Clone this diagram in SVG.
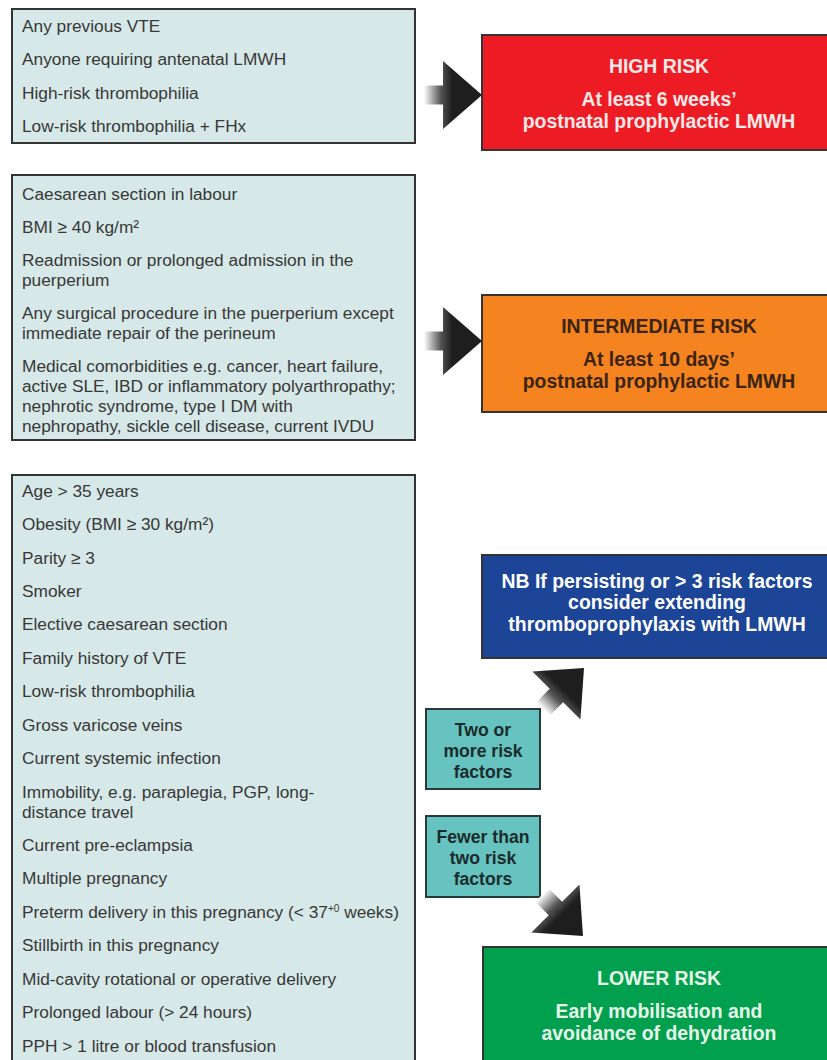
<svg xmlns="http://www.w3.org/2000/svg" width="827" height="1060" viewBox="0 0 827 1060">
<style>
.list{fill:#d6e8e7;stroke:#333;stroke-width:2}
.lt{font-family:"Liberation Sans",Arial,sans-serif;font-size:17.3px;fill:#383838}
.bt{font-family:"Liberation Sans",Arial,sans-serif;font-size:19.4px;font-weight:bold;text-anchor:middle}
.st{font-family:"Liberation Sans",Arial,sans-serif;font-size:17.6px;font-weight:bold;text-anchor:middle;fill:#1c2b2b}
.res{stroke:#333;stroke-width:2}
.tl{fill:#66c3c0;stroke:#2a3a3a;stroke-width:2}
</style>
<defs>
<linearGradient id="ag" gradientUnits="userSpaceOnUse" x1="-58" y1="0" x2="-30" y2="0">
<stop offset="0" stop-color="#ffffff"/>
<stop offset="0.6" stop-color="#555"/>
<stop offset="1" stop-color="#1e1e1e"/>
</linearGradient>
<path id="arrow" d="M-58,-9.5 L-39,-9.5 L-39,-34 L0,0 L-39,34 L-39,9.5 L-58,9.5 Z" fill="url(#ag)"/>
</defs>

<g id="high-factors">
<rect class="list" x="12" y="9" width="403" height="134"/>
<text class="lt" x="22" y="32">Any previous VTE</text>
<text class="lt" x="22" y="65">Anyone requiring antenatal LMWH</text>
<text class="lt" x="22" y="99">High-risk thrombophilia</text>
<text class="lt" x="22" y="132">Low-risk thrombophilia + FHx</text>
</g>

<g id="high-risk">
<rect class="res" x="482" y="35" width="356" height="115" fill="#ed1c24"/>
<text class="bt" x="659" y="73" fill="#fde8e8">HIGH RISK</text>
<text class="bt" x="659" y="106" fill="#fde8e8">At least 6 weeks’</text>
<text class="bt" x="659" y="128" fill="#fde8e8">postnatal prophylactic LMWH</text>
</g>

<g id="intermediate-factors">
<rect class="list" x="12" y="175" width="403" height="265"/>
<text class="lt" x="22" y="200">Caesarean section in labour</text>
<text class="lt" x="22" y="233">BMI ≥ 40 kg/m²</text>
<text class="lt" x="22" y="266">Readmission or prolonged admission in the</text>
<text class="lt" x="22" y="286">puerperium</text>
<text class="lt" x="22" y="319">Any surgical procedure in the puerperium except</text>
<text class="lt" x="22" y="339">immediate repair of the perineum</text>
<text class="lt" x="22" y="372">Medical comorbidities e.g. cancer, heart failure,</text>
<text class="lt" x="22" y="392">active SLE, IBD or inflammatory polyarthropathy;</text>
<text class="lt" x="22" y="412">nephrotic syndrome, type I DM with</text>
<text class="lt" x="22" y="432">nephropathy, sickle cell disease, current IVDU</text>
</g>

<g id="intermediate-risk">
<rect class="res" x="482" y="295" width="356" height="117" fill="#f5831f"/>
<text class="bt" x="659" y="333" fill="#3a2414">INTERMEDIATE RISK</text>
<text class="bt" x="659" y="366" fill="#3a2414">At least 10 days’</text>
<text class="bt" x="659" y="388" fill="#3a2414">postnatal prophylactic LMWH</text>
</g>

<g id="lower-factors">
<rect class="list" x="12" y="475" width="403" height="600"/>
<text class="lt" x="22" y="497">Age &gt; 35 years</text>
<text class="lt" x="22" y="530">Obesity (BMI ≥ 30 kg/m²)</text>
<text class="lt" x="22" y="564">Parity ≥ 3</text>
<text class="lt" x="22" y="597">Smoker</text>
<text class="lt" x="22" y="630">Elective caesarean section</text>
<text class="lt" x="22" y="664">Family history of VTE</text>
<text class="lt" x="22" y="697">Low-risk thrombophilia</text>
<text class="lt" x="22" y="731">Gross varicose veins</text>
<text class="lt" x="22" y="764">Current systemic infection</text>
<text class="lt" x="22" y="798">Immobility, e.g. paraplegia, PGP, long-</text>
<text class="lt" x="22" y="818">distance travel</text>
<text class="lt" x="22" y="851">Current pre-eclampsia</text>
<text class="lt" x="22" y="884">Multiple pregnancy</text>
<text class="lt" x="22" y="918">Preterm delivery in this pregnancy (&lt; 37<tspan font-size="10" dy="-6">+0</tspan><tspan dy="6"> weeks)</tspan></text>
<text class="lt" x="22" y="951">Stillbirth in this pregnancy</text>
<text class="lt" x="22" y="985">Mid-cavity rotational or operative delivery</text>
<text class="lt" x="22" y="1018">Prolonged labour (&gt; 24 hours)</text>
<text class="lt" x="22" y="1052">PPH &gt; 1 litre or blood transfusion</text>
</g>

<g id="nb-extend">
<rect class="res" x="482" y="555" width="356" height="103" fill="#1c4597"/>
<text class="bt" x="657" y="588" fill="#ffffff">NB If persisting or &gt; 3 risk factors</text>
<text class="bt" x="657" y="609" fill="#ffffff">consider extending</text>
<text class="bt" x="657" y="631" fill="#ffffff">thromboprophylaxis with LMWH</text>
</g>

<g id="two-or-more">
<rect class="tl" x="426" y="709" width="114" height="80"/>
<text class="st" x="483" y="736">Two or</text>
<text class="st" x="483" y="757">more risk</text>
<text class="st" x="483" y="778">factors</text>
</g>

<g id="fewer-than-two">
<rect class="tl" x="426" y="816" width="114" height="81"/>
<text class="st" x="483" y="843">Fewer than</text>
<text class="st" x="483" y="864">two risk</text>
<text class="st" x="483" y="885">factors</text>
</g>

<g id="lower-risk">
<rect class="res" x="483" y="947" width="356" height="130" fill="#00a04f"/>
<text class="bt" x="659" y="985" fill="#e8f6ea">LOWER RISK</text>
<text class="bt" x="659" y="1018" fill="#e8f6ea">Early mobilisation and</text>
<text class="bt" x="659" y="1040" fill="#e8f6ea">avoidance of dehydration</text>
</g>

<g id="connectors">
<use href="#arrow" transform="translate(482,95)"/>
<use href="#arrow" transform="translate(482,341)"/>
<use href="#arrow" transform="translate(584,668) rotate(-45)"/>
<use href="#arrow" transform="translate(583,936) rotate(45)"/>
</g>
</svg>
